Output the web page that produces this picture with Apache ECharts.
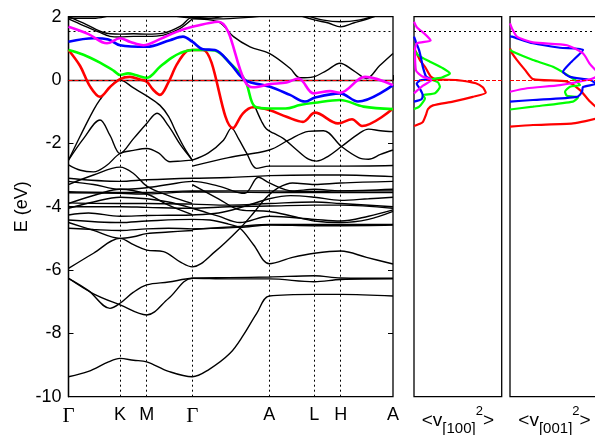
<!DOCTYPE html>
<html>
<head>
<meta charset="utf-8">
<script src="https://cdn.jsdelivr.net/npm/echarts@6/dist/echarts.min.js"></script>
<style>
  html, body { margin: 0; padding: 0; background: #fff; }
  #chart { width: 595px; height: 435px; }
</style>
</head>
<body>
<div id="chart"></div>
<script>
// high-symmetry points along the k path (path length units)
const kTicks = [0, 51.5, 78.2, 123.8, 200.8, 245.8, 272.2, 324.5];
const kLabels = ["Γ", "K", "M", "Γ", "A", "L", "H", "A"];
const eFermiTicks = { fermi: 0, window: 1.55 };

// highlighted bands [k, E]
const redBand = [[0,0.95],[11.5,0.45],[21.5,-0.2],[31.5,-0.53],[41.5,-0.22],[51.5,0.03],[61.5,0.1],[71.5,0.02],[78.2,-0.05],[84.5,-0.3],[91.5,-0.47],[99.5,-0.1],[108.5,0.5],[118.5,0.92],[123.8,0.95],[134.5,0.95],[164.5,-1.52],[174.5,-1.05],[184.5,-0.86],[200.8,-0.95],[218,-1.16],[234.5,-1.32],[246.5,-1.03],[269.5,-1.37],[283.5,-1.24],[293.5,-1.45],[324.5,-0.9]];
const greenBand = [[0,0.95],[15,0.8],[31.5,0.55],[45,0.3],[51.5,0.16],[59.5,0.21],[68,0.15],[78.2,0.07],[91.5,0.42],[103,0.7],[111.5,0.85],[123.8,0.95],[138,0.95],[146.5,0.93],[161.5,0.53],[176.5,0.0],[186.5,-0.84],[200.8,-0.9],[217,-0.9],[231.5,-0.79],[246,-0.72],[271.5,-0.63],[295,-0.84],[324.5,-0.92]];
const blueBand = [[0,1.21],[25,1.32],[40,1.28],[51.5,1.1],[78.2,1.05],[101.5,1.26],[114.5,1.37],[123.8,1.21],[134.5,0.97],[146.5,0.95],[161.5,0.53],[176.5,0.0],[201.5,-0.21],[221.5,-0.47],[236.5,-0.68],[246.5,-0.55],[271.5,-0.42],[289.5,-0.68],[324.5,-0.16]];
const magentaBand = [[0,1.68],[20,1.45],[38.5,1.16],[51.5,1.32],[62,1.2],[75,1.1],[92,1.3],[108,1.52],[123.8,1.68],[149.8,1.84],[176.5,-0.05],[184.5,-0.23],[201.5,-0.13],[218,-0.08],[230,0.05],[245,-0.42],[261.5,-0.35],[271.5,-0.4],[296.5,0.1],[324.5,-0.16]];

// remaining bands, black
const upperBands = [
  [[0,1.93],[15,1.72],[30,1.52],[41.5,1.38],[51.5,1.36],[65,1.38],[78.2,1.38],[95,1.42],[110,1.6],[123.8,1.93]],
  [[0,2.0],[18,1.75],[35,1.5],[51.5,1.45],[65,1.46],[78.2,1.45],[95,1.48],[112,1.7],[123.8,1.98],[140,1.95],[160,2.05]],
  [[0,1.96],[25,1.95],[40,2.02],[51.5,2.1],[78.2,2.1],[105,2.02],[123.8,1.96],[150,1.93],[180,1.98],[200.8,2.05]],
  [[123.8,1.93],[149.8,1.84],[165,1.37],[181.5,1.05],[200.8,0.84],[221.5,0.37],[231.5,0.07],[244.8,0.1],[258,0.3],[271.5,0.53],[285,0.3],[298,0.05],[311,0.45],[324.5,0.84]],
  [[230,2.05],[245.8,1.9],[260,1.8],[272.2,1.68],[285,1.8],[298,1.92],[310,2.05]],
  [[240,2.02],[255,1.89],[272.2,1.84],[290,1.89],[305,2.02]]
];
const valenceBands = [
  [[0,-2.53],[12,-1.75],[25,-0.95],[31.5,-0.62],[41.5,-0.22],[51.5,0.0],[65,-0.25],[78.2,-0.5],[91.5,-0.8],[100,-1.15],[108,-1.67],[116,-2.15],[123.8,-2.53]],
  [[0,-2.53],[15,-1.85],[31.5,-1.26],[41.5,-1.75],[51.5,-2.32],[65,-1.85],[78.2,-1.37],[88.5,-1.05],[100,-1.45],[112,-2.05],[123.8,-2.53]],
  [[0,-2.68],[12,-2.85],[25,-2.9],[38,-2.7],[51.5,-2.32],[65,-2.22],[78.2,-2.16],[90,-2.3],[101.5,-2.58],[112,-2.56],[123.8,-2.53]],
  [[123.8,-2.53],[140,-2.3],[155,-1.9],[163,-1.52],[170,-1.85],[178,-2.3],[188,-2.79],[200.8,-2.72],[246,-2.72],[272,-2.72],[324.5,-2.7]],
  [[186.5,-0.84],[193,-1.3],[198,-1.55],[205,-1.68],[215,-1.85],[228,-2.2],[240,-2.5],[248,-2.56],[260,-2.4],[273,-2.1],[290,-1.7],[300,-1.55],[312,-1.6],[324.5,-1.63]],
  [[123.8,-2.72],[160,-2.45],[200.8,-2.21],[220,-1.9],[240,-1.62],[255,-1.6],[273,-2.1],[290,-2.45],[300,-2.5],[312,-2.35],[324.5,-2.21]],
  [[0,-3.1],[51.5,-3.2],[78.2,-3.15],[123.8,-3.1],[160,-3.08],[200.8,-3.02],[246,-3.0],[272,-3.0],[324.5,-3.05]],
  [[0,-3.2],[25,-3.3],[51.5,-3.45],[78.2,-3.4],[100,-3.3],[123.8,-3.2],[150,-3.35],[176,-3.58],[190,-3.07],[200.8,-3.25],[224,-3.5],[246,-3.45],[272,-3.5],[324.5,-3.45]],
  [[0,-3.53],[51.5,-3.55],[78.2,-3.55],[123.8,-3.5],[160,-3.5],[200.8,-3.5],[246,-3.52],[272,-3.5],[324.5,-3.5]],
  [[0,-3.56],[51.5,-3.58],[78.2,-3.6],[123.8,-3.53],[200.8,-3.55],[324.5,-3.55]],
  [[0,-3.88],[51.5,-3.9],[78.2,-3.9],[123.8,-3.92],[160,-3.95],[200.8,-3.9],[246,-3.85],[272,-3.9],[324.5,-4.0]],
  [[0,-4.0],[51.5,-4.0],[78.2,-4.02],[123.8,-4.05],[160,-4.0],[200.8,-3.98],[246,-3.95],[272,-3.95],[324.5,-4.05]],
  [[0,-4.05],[25,-3.85],[51.5,-3.7],[78.2,-3.75],[100,-3.85],[123.8,-4.05],[150,-4.3],[171.5,-4.5],[200.8,-4.3],[246,-4.4],[272,-4.45],[300,-4.3],[324.5,-4.1]],
  [[0,-4.26],[20,-4.2],[51.5,-4.3],[78.2,-4.28],[100,-4.27],[123.8,-4.26],[150,-4.2],[175,-4.0],[200.8,-3.75],[222,-3.65],[246,-3.7],[272,-3.8],[300,-3.75],[324.5,-3.7]],
  [[0,-3.3],[25,-3.0],[51.5,-2.75],[65,-2.95],[78.2,-3.35],[100,-3.65],[123.8,-3.9]],
  [[0,-3.9],[30,-3.6],[51.5,-3.45],[78.2,-3.6],[100,-3.95],[123.8,-4.25]],
  [[123.8,-3.3],[150,-3.75],[171.5,-4.1],[200.8,-4.15],[224,-4.3],[246,-4.45],[272,-4.5],[300,-4.4],[324.5,-4.15]]
];
const deepBands = [
  [[0,-4.42],[51.5,-4.5],[78.2,-4.45],[123.8,-4.4],[141.5,-4.42],[160,-4.55],[171.5,-4.68],[185,-5.2],[200.8,-5.8],[224,-5.6],[245.8,-5.47],[272.2,-5.4],[298,-5.6],[324.5,-5.81]],
  [[0,-4.68],[25,-4.72],[51.5,-4.75],[78.2,-4.7],[100,-4.68],[123.8,-4.7],[171.5,-4.65],[200.8,-4.58],[246,-4.6],[272,-4.6],[324.5,-4.58]],
  [[123.8,-4.72],[171.5,-4.62],[200.8,-4.56],[324.5,-4.56]],
  [[0,-4.5],[25,-4.75],[51.5,-5.0],[65,-4.95],[78.2,-4.85],[100,-4.8],[123.8,-4.75]],
  [[0,-5.95],[25,-5.47],[51.5,-5.0],[65,-5.2],[78.2,-5.37],[95,-5.42],[112,-5.75],[123.8,-5.9],[146.5,-5.42],[171.5,-4.68],[185,-4.2],[198,-3.7],[210,-3.4],[224,-3.25],[246,-3.3],[272,-3.25],[324.5,-3.2]],
  [[0,-6.26],[20,-6.65],[41.5,-7.21],[51.5,-7.05],[65,-6.7],[78.2,-6.47],[100,-6.38],[123.8,-6.26],[160,-6.24],[200.8,-6.22],[245.8,-6.18],[272.2,-6.25],[324.5,-6.26]],
  [[0,-6.26],[25,-6.75],[51.5,-7.1],[78.2,-7.42],[100,-6.9],[123.8,-6.26],[160,-6.28],[200.8,-6.28],[245.8,-6.37],[272.2,-6.3],[324.5,-6.28]],
  [[0,-9.37],[20,-9.2],[40,-8.9],[51.5,-8.79],[65,-8.85],[78.2,-8.9],[100,-9.2],[123.8,-9.37],[140,-9.15],[161.5,-8.63],[175,-8.05],[188.2,-7.37],[200.8,-6.82],[245.8,-6.77],[272.2,-6.77],[324.5,-6.82]]
];

// <v_[100]^2> panel, [value, E]
const v100Red = [[0,-1.45],[6,-1.38],[9,-1.32],[12,-1.1],[14,-0.92],[19,-0.8],[39,-0.68],[59,-0.53],[72,-0.4],[69,-0.23],[62,-0.1],[43,0],[23,0.02],[17,0.1],[11,0.42],[6,0.63],[1,0.95],[0,1.0]];
const v100Green = [[0,-0.92],[5,-0.85],[9,-0.7],[11,-0.58],[9,-0.48],[21,-0.42],[26,-0.21],[24,-0.07],[17,0.02],[28,0.08],[36,0.21],[29,0.37],[16,0.58],[4,0.79],[0,0.95]];
const v100Blue = [[0,-0.68],[7.7,-0.6],[8.7,-0.47],[6,-0.28],[2.7,-0.12],[6,-0.01],[16,0.04],[12,0.12],[9,0.4],[7,0.7],[5,0.95],[2,1.2],[0,1.37]];
const v100Magenta = [[0,-0.42],[9,-0.18],[17.7,0.0],[8,0.12],[2,0.3],[1,0.95],[3,1.16],[16.7,1.25],[11,1.45],[3,1.66],[0,1.84]];
// <v_[001]^2> panel
const v001Red = [[0,-1.47],[23,-1.42],[63,-1.37],[88,-1.2],[95,-1.05],[88,-0.9],[80,-0.68],[70,-0.32],[57,-0.05],[23,0.03],[15,0.32],[7,0.63],[2,0.85],[0,1.0]];
const v001Green = [[0,-0.93],[23,-0.84],[63,-0.68],[68,-0.55],[57,-0.5],[55,-0.37],[60,-0.21],[70,-0.16],[65,0.0],[43,0.42],[23,0.63],[3,0.89],[0,0.95]];
const v001Blue = [[0,-0.68],[23,-0.63],[67,-0.53],[72,-0.37],[73,-0.22],[86,-0.12],[80,0.0],[60,0.1],[53,0.26],[60,0.53],[73,0.95],[50,1.02],[23,1.16],[2,1.37],[0,1.38]];
const v001Magenta = [[0,-0.37],[17,-0.26],[50,-0.16],[77,0.0],[85,0.08],[88,0.2],[80,0.5],[73,0.84],[57,1.1],[23,1.19],[7,1.37],[2,1.63],[0,1.79]];

const RED = "#ff0000", GREEN = "#00ff00", BLUE = "#0000ff", MAGENTA = "#ff00ff";
const FONT = "Liberation Sans";

const chart = echarts.init(document.getElementById("chart"), null, { renderer: "canvas" });

function bandSeries(data, color, width, z) {
  return {
    type: "line", xAxisIndex: 0, yAxisIndex: 0, data,
    symbol: "none", smooth: 0.35, silent: true,
    lineStyle: { color, width }, z,
  };
}
function panelSeries(idx, data, color) {
  return {
    type: "line", xAxisIndex: idx, yAxisIndex: idx + 1, data,
    symbol: "none", smooth: 0.2, silent: true,
    lineStyle: { color, width: 2.2 }, z: 4,
  };
}
function refLines() {
  return {
    silent: true, symbol: "none", label: { show: false },
    data: [
      { yAxis: eFermiTicks.window, lineStyle: { color: "#000", type: [2, 3], width: 1 } },
      { yAxis: eFermiTicks.fermi, lineStyle: { color: RED, type: [4, 2], width: 1 } },
    ],
  };
}

const series = [];
[...upperBands, ...valenceBands, ...deepBands].forEach((b) => series.push(bandSeries(b, "#000", 1.4, 2)));
series[0].markLine = {
  silent: true, symbol: "none", label: { show: false },
  lineStyle: { color: "#000", type: [2, 3], width: 1 },
  data: kTicks.slice(1, -1).map((k) => ({ xAxis: k })),
};
series[1].markLine = refLines();
series.push(bandSeries(redBand, RED, 2.6, 3));
series.push(bandSeries(greenBand, GREEN, 2.6, 4));
series.push(bandSeries(blueBand, BLUE, 2.6, 5));
series.push(bandSeries(magentaBand, MAGENTA, 2.6, 6));

[[v100Red, RED], [v100Green, GREEN], [v100Blue, BLUE], [v100Magenta, MAGENTA]].forEach(([d, c]) => series.push(panelSeries(1, d, c)));
[[v001Red, RED], [v001Green, GREEN], [v001Blue, BLUE], [v001Magenta, MAGENTA]].forEach(([d, c]) => series.push(panelSeries(2, d, c)));
series[series.length - 8].markLine = refLines();
series[series.length - 4].markLine = refLines();

const panelName = (sub) => ({
  name: `{m|<v}{sub|${sub}}{sup|2}{m|>}`,
  nameLocation: "middle",
  nameGap: 8,
  nameMoveOverlap: false,
  nameTextStyle: {
    rich: {
      m: { fontFamily: FONT, fontSize: 19, lineHeight: 32, color: "#000" },
      sub: { fontFamily: FONT, fontSize: 15, lineHeight: 22, verticalAlign: "bottom", color: "#000" },
      sup: { fontFamily: FONT, fontSize: 13, lineHeight: 18, verticalAlign: "top", color: "#000" },
    },
  },
});

const border = { show: true, borderColor: "#000", borderWidth: 1.3, backgroundColor: "transparent", containLabel: false, outerBoundsMode: "none" };

chart.setOption({
  animation: false,
  grid: [
    { left: 68.5, right: 202, top: 16.7, bottom: 38.3, ...border },
    { left: 414, width: 87.7, top: 16.7, bottom: 38.3, ...border },
    { left: 510, width: 89, top: 16.7, bottom: 38.3, ...border },
  ],
  xAxis: [
    {
      gridIndex: 0, type: "value", min: 0, max: 324.5,
      axisLine: { show: true, lineStyle: { color: "#000", width: 1.3 } },
      axisTick: { show: true, inside: true, length: 5, customValues: kTicks, lineStyle: { color: "#000" } },
      axisLabel: {
        customValues: kTicks, margin: 9, color: "#000", fontFamily: FONT, fontSize: 18,
        formatter: (v) => {
          const i = kTicks.findIndex((k) => Math.abs(k - v) < 0.01);
          const t = i >= 0 ? kLabels[i] : "";
          return t === "Γ" ? "{g|Γ}" : t;
        },
        rich: { g: { fontFamily: "Liberation Serif", fontSize: 21, color: "#000" } },
      },
      splitLine: { show: false },
    },
    { gridIndex: 1, type: "value", min: 0, max: 88, axisLine: { show: false }, axisTick: { show: false }, axisLabel: { show: false }, splitLine: { show: false }, ...panelName("[100]") },
    { gridIndex: 2, type: "value", min: 0, max: 89, axisLine: { show: false }, axisTick: { show: false }, axisLabel: { show: false }, splitLine: { show: false }, ...panelName("[001]") },
  ],
  yAxis: [
    {
      gridIndex: 0, type: "value", min: -10, max: 2, interval: 2,
      name: "E (eV)", nameLocation: "middle", nameGap: 37, nameMoveOverlap: false,
      nameTextStyle: { fontFamily: FONT, fontSize: 18, color: "#000" },
      axisLine: { show: true, lineStyle: { color: "#000", width: 1.3 } },
      axisTick: { show: true, inside: true, length: 5, lineStyle: { color: "#000" } },
      axisLabel: { margin: 7, color: "#000", fontFamily: FONT, fontSize: 18 },
      splitLine: { show: false },
    },
    {
      gridIndex: 0, type: "value", position: "right", min: -10, max: 2, interval: 2,
      axisLine: { show: false },
      axisTick: { show: true, inside: true, length: 5, lineStyle: { color: "#000" } },
      axisLabel: { show: false }, splitLine: { show: false },
    },
    { gridIndex: 1, type: "value", min: -10, max: 2, show: false },
    { gridIndex: 2, type: "value", min: -10, max: 2, show: false },
  ],
  series,
});
</script>
</body>
</html>
